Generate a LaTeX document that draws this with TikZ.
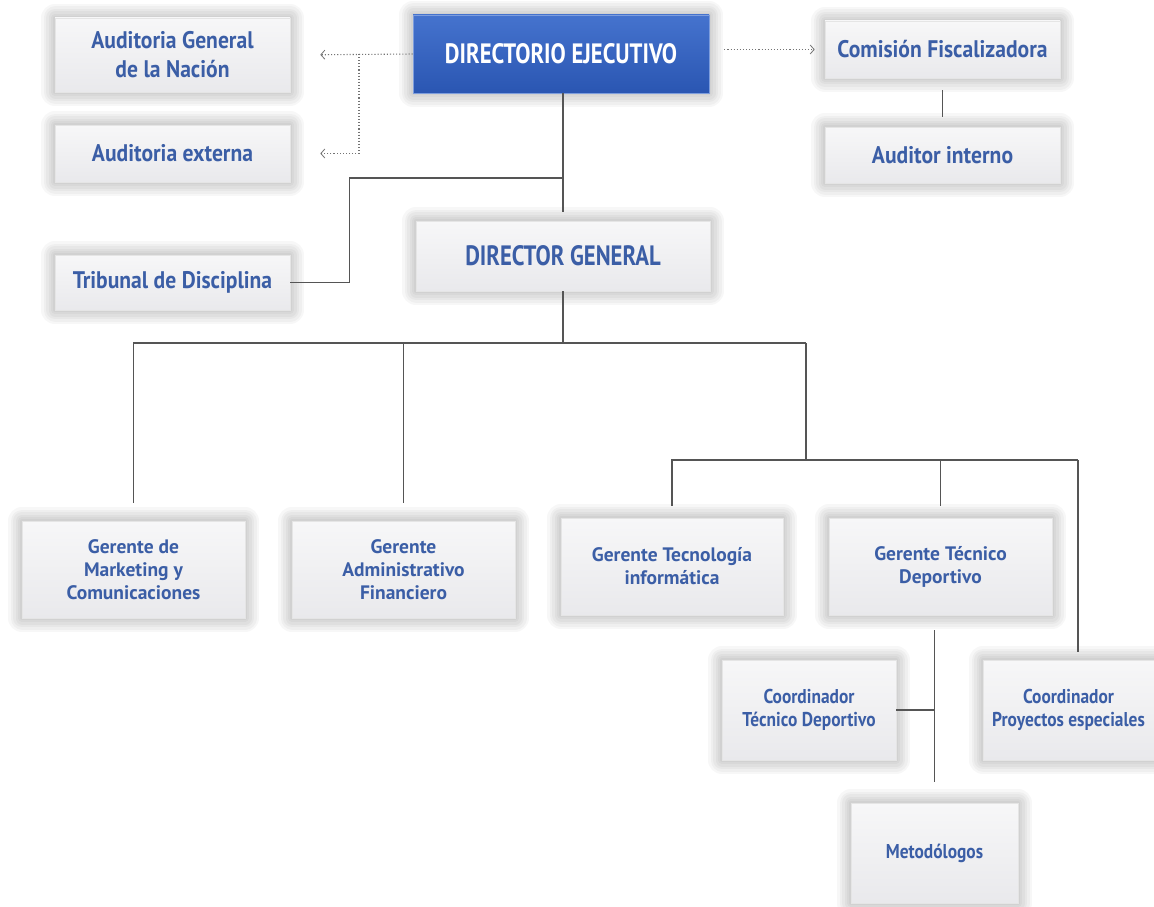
\documentclass[tikz,border=0pt]{standalone}
\usepackage{fontspec}
\setmainfont{PT Sans}
\newfontfamily\capsfont[FakeStretch=0.81]{PT Sans}
\newfontfamily\bigfont[FakeStretch=0.9]{PT Sans}
\newfontfamily\midfont[FakeStretch=1.0]{PT Sans}
\newfontfamily\coordfont[FakeStretch=0.87]{PT Sans}
\usetikzlibrary{arrows.meta,calc}
\definecolor{txtblue}{HTML}{3B5EA6}
\definecolor{detop}{HTML}{4573CE}
\definecolor{debot}{HTML}{2A56B2}
\definecolor{boxtop}{HTML}{F7F7F8}
\definecolor{boxbot}{HTML}{E9E9EC}
\definecolor{linegray}{HTML}{555555}
\tikzset{
  glowlayer/.style={preaction={draw=black, draw opacity=0.03, line width=#1, line join=round}},
  glow/.style={glowlayer=28pt, glowlayer=23pt, glowlayer=18pt, glowlayer=13pt, glowlayer=8pt, glowlayer=4pt},
  box/.style={glow, draw=black!10, line width=0.6pt, top color=boxtop, bottom color=boxbot,
    text=txtblue, align=center, inner sep=2pt},
  bigbox/.style={box, font=\bigfont\fontsize{24}{29}\selectfont\bfseries},
  capsbox/.style={box, font=\capsfont\fontsize{28}{32}\selectfont\bfseries},
  smallbox/.style={box, font=\midfont\fontsize{19.5}{23}\selectfont\bfseries},
  coordbox/.style={box, font=\coordfont\fontsize{20}{23.5}\selectfont\bfseries},
  conn/.style={draw=linegray, line width=1.1pt},
  dotline/.style={draw=black!55, line width=1.1pt, dotted, -{Straight Barb[length=4pt,width=9pt,line width=0.8pt]}},
}
\begin{document}
\begin{tikzpicture}[x=1pt,y=-1pt]
\useasboundingbox[fill=white] (0,0) rectangle (1154,907);
% top level
\node[capsbox, minimum width=296pt, minimum height=78pt, draw=detop!70!white,
  top color=detop, bottom color=debot, text=white] (de) at (561,54) {DIRECTORIO EJECUTIVO};
\node[bigbox, minimum width=235pt, minimum height=74pt] (agn) at (172.5,55) {Auditoria General\\de la Nación};
\node[bigbox, minimum width=235pt, minimum height=57pt] (ae) at (172.5,153.5) {Auditoria externa};
\node[bigbox, minimum width=235pt, minimum height=55pt] (td) at (172.5,282.5) {Tribunal de Disciplina};
\node[bigbox, minimum width=235pt, minimum height=57pt] (cf) at (942.5,49.5) {Comisión Fiscalizadora};
\node[bigbox, minimum width=235pt, minimum height=56pt] (ai) at (942.5,155) {Auditor interno};
\node[capsbox, minimum width=294pt, minimum height=70pt] (dg) at (563,256) {DIRECTOR GENERAL};
% managers
\node[smallbox, minimum width=223pt, minimum height=97pt] (gm) at (133.5,569.5) {Gerente de\\Marketing y\\Comunicaciones};
\node[smallbox, minimum width=223pt, minimum height=97pt] (ga) at (403.5,569.5) {Gerente\\Administrativo\\Financiero};
\node[smallbox, minimum width=222pt, minimum height=97pt] (gt) at (672,566.5) {Gerente Tecnología\\informática};
\node[smallbox, minimum width=223pt, minimum height=97pt] (gd) at (940.5,566.5) {Gerente Técnico\\Deportivo};
\node[coordbox, minimum width=174pt, minimum height=100pt] (ctd) at (809,710) {Coordinador\\Técnico Deportivo};
\node[coordbox, minimum width=171pt, minimum height=100pt] (cpe) at (1068.5,710) {Coordinador\\Proyectos especiales};
\node[coordbox, minimum width=167pt, minimum height=100pt] (met) at (934.5,853) {Metodólogos};
% coordinates
\coordinate (j1) at (563,178);
\coordinate (b1) at (563,343);
\coordinate (b2) at (806,343);
\coordinate (b3) at (806,460);
\coordinate (b4) at (1078,460);
\coordinate (d1) at (359,54);
% solid connectors
\draw[conn, shorten >=9pt] (de.south -| dg.north) -- (dg.north);
\draw[conn] (td.east) -- ++(59,0) |- (j1);
\draw[conn] (dg.south) -- (b1);
\draw[conn, shorten <=18pt] (gm.north) |- (b2);
\draw[conn, shorten >=18pt] (b1 -| ga.north) -- (ga.north);
\draw[conn] (b2) -- (b3);
\draw[conn, shorten <=12pt] (gt.north) |- (b4);
\draw[conn, shorten >=12pt] (b4 -| gd.north) -- (gd.north);
\draw[conn, shorten >=8pt] (b4) -- (b4 |- cpe.north);
\draw[conn, shorten <=21pt, shorten >=15pt] (met.north) -- (met.north |- gd.south);
\draw[conn] (ctd.east) -- (ctd.east -| met.north);
\draw[conn, shorten <=12pt, shorten >=10pt] (cf.south) -- (ai.north);
% dotted connectors
\draw[dotline, shorten >=30pt] (de.west) -- (agn.east);
\draw[dotline, shorten >=30pt] (d1) |- (ae.east);
\draw[dotline, shorten <=15pt, shorten >=10pt] (de.east |- cf.west) -- (cf.west);
\end{tikzpicture}
\end{document}
